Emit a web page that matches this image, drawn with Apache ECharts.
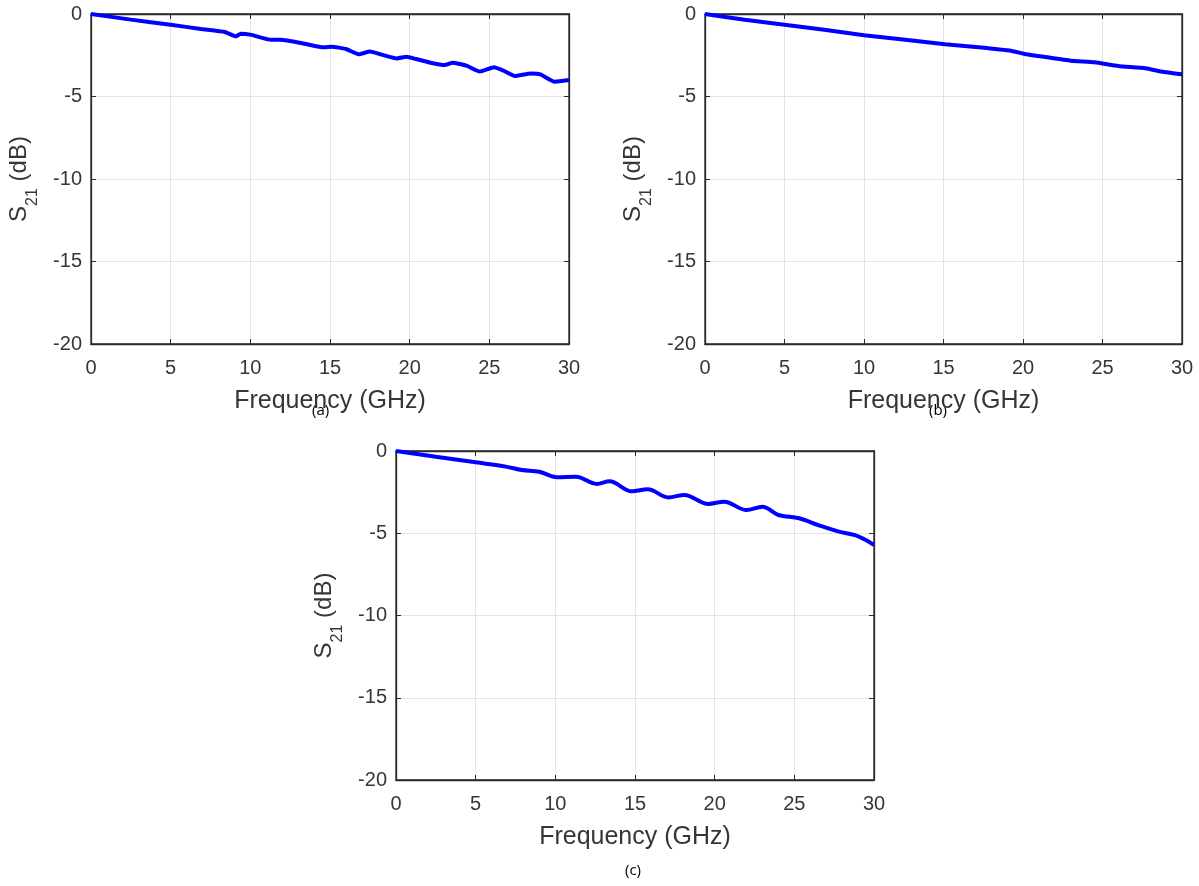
<!DOCTYPE html>
<html>
<head>
<meta charset="utf-8">
<script src="https://cdn.jsdelivr.net/npm/echarts@6/dist/echarts.min.js"></script>
<style>
html,body{margin:0;padding:0;background:#fff;}
#chart{width:1199px;height:886px;}
</style>
</head>
<body>
<div id="chart"></div>
<script>
// ---- data ----
const xTicks = [0, 5, 10, 15, 20, 25, 30];
const yTicks = [-20, -15, -10, -5, 0];

const freqA = [0, 2.5, 5, 6.9, 8.4, 9.1, 9.4, 10, 11.3, 11.9, 13.4, 14.6, 15.1, 16.0, 16.8, 17.5, 18.3, 19.2, 19.8, 20.4, 21.3, 22.2, 22.7, 23.6, 24.4, 25.3, 25.9, 26.6, 27.6, 28.2, 29.1, 30];
const s21A  = [0, -0.34, -0.65, -0.91, -1.09, -1.35, -1.19, -1.25, -1.56, -1.56, -1.80, -2.02, -1.98, -2.12, -2.44, -2.28, -2.48, -2.69, -2.59, -2.73, -2.95, -3.09, -2.95, -3.15, -3.49, -3.23, -3.44, -3.76, -3.60, -3.66, -4.10, -4.00];

const freqB = [0, 2.5, 5, 7.5, 10, 12.6, 15.1, 17.2, 19.3, 20.1, 21.3, 23.0, 24.5, 26.0, 27.7, 28.7, 29.8, 30];
const s21B  = [0, -0.35, -0.65, -0.95, -1.29, -1.56, -1.84, -2.02, -2.24, -2.42, -2.59, -2.83, -2.93, -3.15, -3.29, -3.49, -3.64, -3.65];

const freqC = [0, 2.5, 5, 6.9, 7.9, 9.0, 10.1, 11.3, 12.6, 13.4, 14.8, 15.8, 17.1, 18.1, 19.6, 20.6, 22.0, 23.0, 24.0, 25.3, 26.5, 27.8, 28.8, 29.4, 30];
const s21C  = [0, -0.35, -0.69, -0.95, -1.16, -1.26, -1.60, -1.56, -2.00, -1.84, -2.45, -2.33, -2.82, -2.67, -3.22, -3.08, -3.59, -3.39, -3.89, -4.09, -4.50, -4.90, -5.11, -5.37, -5.71];

const panels = [
  {freq: freqA, s21: s21A, grid: {left: 91, top: 14, width: 478, height: 330}, tag: '(a)', tagX: 323, tagY: 412},
  {freq: freqB, s21: s21B, grid: {left: 705, top: 14, width: 477, height: 330}, tag: '(b)', tagX: 940, tagY: 412},
  {freq: freqC, s21: s21C, grid: {left: 396, top: 451, width: 478, height: 329}, tag: '(c)', tagX: 636, tagY: 872}
];

const FONT = 'Liberation Sans, Arial, sans-serif';
const TXT = '#363636';
const AX = '#2a2a2a';
const GRIDC = '#e3e3e3';

const option = {
  backgroundColor: '#fff',
  animation: false,
  grid: [], xAxis: [], yAxis: [], series: [], graphic: []
};

panels.forEach((p, i) => {
  option.grid.push(Object.assign({show: true, borderColor: AX, borderWidth: 1.3, backgroundColor: '#fff'}, p.grid));
  // bottom x
  option.xAxis.push({
    type: 'value', gridIndex: i, min: 0, max: 30, interval: 5, position: 'bottom',
    axisLine: {show: true, onZero: false, lineStyle: {color: AX, width: 1.3}},
    axisTick: {show: true, inside: true, length: 5, lineStyle: {color: AX}},
    axisLabel: {fontSize: 20, color: TXT, fontFamily: FONT, margin: 14,
      customValues: xTicks},
    splitLine: {show: true, lineStyle: {color: GRIDC, width: 1}},
    name: 'Frequency (GHz)', nameLocation: 'middle', nameGap: 45,
    nameTextStyle: {fontSize: 25, color: TXT, fontFamily: FONT}
  });
  // top x (ticks only)
  option.xAxis.push({
    type: 'value', gridIndex: i, min: 0, max: 30, interval: 5, position: 'top',
    axisLine: {show: true, onZero: false, lineStyle: {color: AX, width: 1.3}},
    axisTick: {show: true, inside: true, length: 5, lineStyle: {color: AX}},
    axisLabel: {show: false}, splitLine: {show: false}
  });
  // left y
  option.yAxis.push({
    type: 'value', gridIndex: i, min: -20, max: 0, interval: 5, position: 'left',
    axisLine: {show: true, onZero: false, lineStyle: {color: AX, width: 1.3}},
    axisTick: {show: true, inside: true, length: 5, lineStyle: {color: AX}},
    axisLabel: {fontSize: 20, color: TXT, fontFamily: FONT, margin: 9, customValues: yTicks},
    splitLine: {show: true, lineStyle: {color: GRIDC, width: 1}},
    name: '{s|S}{sub|21}{s| (dB)}', nameLocation: 'middle', nameGap: 50, nameRotate: 90,
    nameTextStyle: {
      color: TXT, fontFamily: FONT,
      rich: {
        s: {fontSize: 24, color: TXT, fontFamily: FONT, verticalAlign: 'top', lineHeight: 34},
        sub: {fontSize: 16, color: TXT, fontFamily: FONT, verticalAlign: 'bottom', lineHeight: 34}
      }
    }
  });
  // right y (ticks only)
  option.yAxis.push({
    type: 'value', gridIndex: i, min: -20, max: 0, interval: 5, position: 'right',
    axisLine: {show: true, onZero: false, lineStyle: {color: AX, width: 1.3}},
    axisTick: {show: true, inside: true, length: 5, lineStyle: {color: AX}},
    axisLabel: {show: false}, splitLine: {show: false}
  });
  option.series.push({
    type: 'line', xAxisIndex: 2 * i, yAxisIndex: 2 * i,
    data: p.freq.map((f, k) => [f, p.s21[k]]),
    showSymbol: false, symbol: 'none', smooth: i === 2 ? 0.35 : 0.15,
    lineStyle: {color: '#0000ff', width: 4},
    clip: false, z: 5
  });
  option.graphic.push({
    type: 'text', left: p.tagX - 11, top: p.tagY - 9,
    style: {text: p.tag, fontSize: 15, fill: '#000', fontFamily: 'Open Sans, sans-serif'}
  });
});

const chart = echarts.init(document.getElementById('chart'), null, {renderer: 'canvas'});
chart.setOption(option);
</script>
</body>
</html>
